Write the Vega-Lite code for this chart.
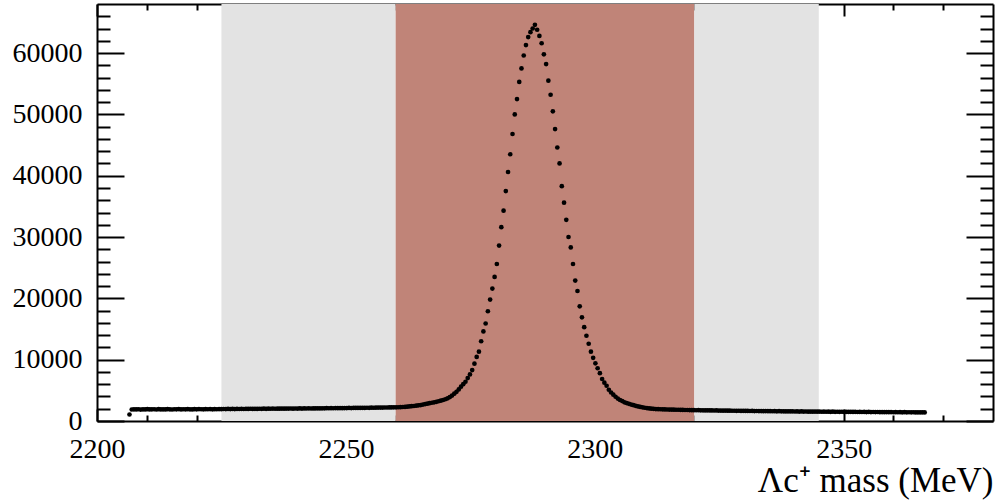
{
"$schema": "https://vega.github.io/schema/vega-lite/v6.json",
"width": 896, "height": 417,
"autosize": {"type": "none"},
"padding": {"left": 97, "top": 4, "right": 5, "bottom": 81},
"background": "white",
"config": {"view": {"stroke": null}, "axis": {"labelFont": "Liberation Serif", "titleFont": "Liberation Serif", "tickColor": "black", "domainColor": "black", "labelColor": "black", "titleColor": "black", "grid": false, "zindex": 1, "tickWidth": 2}},
"data": {"values": [
{"mass":2206.525,"count":1060},{"mass":2206.975,"count":1880},{"mass":2207.425,"count":1905},{"mass":2207.875,"count":1890},{"mass":2208.325,"count":1920},{"mass":2208.775,"count":1870},{"mass":2209.225,"count":1910},{"mass":2209.675,"count":1895},{"mass":2210.125,"count":1930},{"mass":2210.575,"count":1885},{"mass":2211.025,"count":1900},{"mass":2211.475,"count":1915},{"mass":2211.925,"count":1875},{"mass":2212.375,"count":1925},{"mass":2212.825,"count":1895},{"mass":2213.275,"count":1910},{"mass":2213.725,"count":1890},{"mass":2214.175,"count":1935},{"mass":2214.625,"count":1900},{"mass":2215.075,"count":1880},{"mass":2215.525,"count":1915},{"mass":2215.975,"count":1905},{"mass":2216.425,"count":1945},{"mass":2216.875,"count":1890},{"mass":2217.325,"count":1920},{"mass":2217.775,"count":1900},{"mass":2218.225,"count":1930},{"mass":2218.675,"count":1910},{"mass":2219.125,"count":1895},{"mass":2219.575,"count":1925},{"mass":2220.025,"count":1905},{"mass":2220.475,"count":1940},{"mass":2220.925,"count":1915},{"mass":2221.375,"count":1900},{"mass":2221.825,"count":1930},{"mass":2222.275,"count":1920},{"mass":2222.725,"count":1945},{"mass":2223.175,"count":1905},{"mass":2223.625,"count":1935},{"mass":2224.075,"count":1920},{"mass":2224.525,"count":1950},{"mass":2224.975,"count":1925},
{"mass":2225.425,"count":1955},{"mass":2225.875,"count":1940},{"mass":2226.325,"count":1965},{"mass":2226.775,"count":1950},{"mass":2227.225,"count":1975},{"mass":2227.675,"count":1945},{"mass":2228.125,"count":1970},{"mass":2228.575,"count":1960},{"mass":2229.025,"count":1985},{"mass":2229.475,"count":1955},{"mass":2229.925,"count":1980},{"mass":2230.375,"count":1970},{"mass":2230.825,"count":1995},{"mass":2231.275,"count":1965},{"mass":2231.725,"count":1990},{"mass":2232.175,"count":1975},{"mass":2232.625,"count":2000},{"mass":2233.075,"count":1985},{"mass":2233.525,"count":2010},{"mass":2233.975,"count":1990},{"mass":2234.425,"count":2005},{"mass":2234.875,"count":2000},{"mass":2235.325,"count":2020},{"mass":2235.775,"count":1995},{"mass":2236.225,"count":2015},{"mass":2236.675,"count":2010},{"mass":2237.125,"count":2030},{"mass":2237.575,"count":2005},{"mass":2238.025,"count":2025},{"mass":2238.475,"count":2020},{"mass":2238.925,"count":2040},{"mass":2239.375,"count":2015},{"mass":2239.825,"count":2035},{"mass":2240.275,"count":2030},{"mass":2240.725,"count":2050},{"mass":2241.175,"count":2025},{"mass":2241.625,"count":2045},{"mass":2242.075,"count":2040},{"mass":2242.525,"count":2060},{"mass":2242.975,"count":2035},{"mass":2243.425,"count":2055},{"mass":2243.875,"count":2050},{"mass":2244.325,"count":2070},{"mass":2244.775,"count":2045},{"mass":2245.225,"count":2065},
{"mass":2245.675,"count":2070},{"mass":2246.125,"count":2085},{"mass":2246.575,"count":2075},{"mass":2247.025,"count":2095},{"mass":2247.475,"count":2080},{"mass":2247.925,"count":2100},{"mass":2248.375,"count":2090},{"mass":2248.825,"count":2110},{"mass":2249.275,"count":2095},{"mass":2249.725,"count":2115},{"mass":2250.175,"count":2105},{"mass":2250.625,"count":2125},{"mass":2251.075,"count":2110},{"mass":2251.525,"count":2130},{"mass":2251.975,"count":2125},{"mass":2252.425,"count":2140},{"mass":2252.875,"count":2130},{"mass":2253.325,"count":2150},{"mass":2253.775,"count":2140},{"mass":2254.225,"count":2160},{"mass":2254.675,"count":2150},{"mass":2255.125,"count":2170},{"mass":2255.575,"count":2160},{"mass":2256.025,"count":2180},
{"mass":2256.475,"count":2185},{"mass":2256.925,"count":2195},{"mass":2257.375,"count":2190},{"mass":2257.825,"count":2205},{"mass":2258.275,"count":2200},{"mass":2258.725,"count":2215},{"mass":2259.175,"count":2210},{"mass":2259.625,"count":2225},{"mass":2260.075,"count":2230},{"mass":2260.525,"count":2240},
{"mass":2260.975,"count":2250},{"mass":2261.425,"count":2280},{"mass":2261.875,"count":2300},{"mass":2262.325,"count":2330},{"mass":2262.775,"count":2380},{"mass":2263.225,"count":2420},{"mass":2263.675,"count":2450},{"mass":2264.125,"count":2500},{"mass":2264.575,"count":2550},{"mass":2265.025,"count":2600},
{"mass":2265.475,"count":2680},{"mass":2265.925,"count":2760},{"mass":2266.375,"count":2830},{"mass":2266.825,"count":2900},{"mass":2267.275,"count":2980},{"mass":2267.725,"count":3050},{"mass":2268.175,"count":3130},{"mass":2268.625,"count":3220},{"mass":2269.075,"count":3320},{"mass":2269.525,"count":3420},
{"mass":2269.975,"count":3550},{"mass":2270.425,"count":3700},{"mass":2270.875,"count":3900},{"mass":2271.325,"count":4150},{"mass":2271.775,"count":4450},{"mass":2272.225,"count":4750},{"mass":2272.675,"count":5150},{"mass":2273.125,"count":5600},{"mass":2273.575,"count":6000},{"mass":2274.025,"count":6400},
{"mass":2274.475,"count":7000},{"mass":2274.925,"count":7600},{"mass":2275.375,"count":8300},{"mass":2275.825,"count":9350},{"mass":2276.275,"count":10450},{"mass":2276.725,"count":11300},{"mass":2277.175,"count":13000},{"mass":2277.625,"count":14600},{"mass":2278.075,"count":15900},{"mass":2278.525,"count":17900},
{"mass":2278.975,"count":19800},{"mass":2279.425,"count":21600},{"mass":2279.875,"count":23500},{"mass":2280.325,"count":25600},{"mass":2280.775,"count":28600},{"mass":2281.225,"count":31600},{"mass":2281.675,"count":34300},{"mass":2282.125,"count":37500},{"mass":2282.575,"count":40600},{"mass":2283.025,"count":43500},
{"mass":2283.475,"count":46800},{"mass":2283.925,"count":50000},{"mass":2284.375,"count":52500},{"mass":2284.825,"count":55300},{"mass":2285.275,"count":57500},{"mass":2285.725,"count":59600},{"mass":2286.175,"count":61300},{"mass":2286.625,"count":62600},{"mass":2287.075,"count":63400},{"mass":2287.525,"count":64000},
{"mass":2287.975,"count":64600},
{"mass":2288.425,"count":63800},{"mass":2288.875,"count":62800},{"mass":2289.325,"count":61600},{"mass":2289.775,"count":59800},{"mass":2290.225,"count":58200},{"mass":2290.675,"count":55500},{"mass":2291.125,"count":53200},{"mass":2291.575,"count":50500},{"mass":2292.025,"count":47600},{"mass":2292.475,"count":44600},
{"mass":2292.925,"count":42000},{"mass":2293.375,"count":38300},{"mass":2293.825,"count":35600},{"mass":2294.275,"count":32800},{"mass":2294.725,"count":30000},{"mass":2295.175,"count":28300},{"mass":2295.625,"count":25600},{"mass":2296.075,"count":22900},{"mass":2296.525,"count":21200},{"mass":2296.975,"count":18700},
{"mass":2297.425,"count":16900},{"mass":2297.875,"count":15300},{"mass":2298.325,"count":13900},{"mass":2298.775,"count":12600},{"mass":2299.225,"count":11300},{"mass":2299.675,"count":10300},{"mass":2300.125,"count":9400},{"mass":2300.575,"count":8600},{"mass":2301.025,"count":7800},{"mass":2301.475,"count":6850},
{"mass":2301.925,"count":6250},{"mass":2302.375,"count":5750},{"mass":2302.825,"count":5100},{"mass":2303.275,"count":4650},{"mass":2303.725,"count":4300},{"mass":2304.175,"count":3950},{"mass":2304.625,"count":3650},{"mass":2305.075,"count":3420},{"mass":2305.525,"count":3250},{"mass":2305.975,"count":3050},
{"mass":2306.425,"count":2920},{"mass":2306.875,"count":2800},{"mass":2307.325,"count":2680},{"mass":2307.775,"count":2580},{"mass":2308.225,"count":2480},{"mass":2308.675,"count":2380},{"mass":2309.125,"count":2300},{"mass":2309.575,"count":2230},{"mass":2310.025,"count":2160},{"mass":2310.475,"count":2100},
{"mass":2310.925,"count":2050},{"mass":2311.375,"count":2010},{"mass":2311.825,"count":1980},{"mass":2312.275,"count":1950},{"mass":2312.725,"count":1935},{"mass":2313.175,"count":1920},{"mass":2313.625,"count":1905},{"mass":2314.075,"count":1895},{"mass":2314.525,"count":1880},{"mass":2314.975,"count":1870},
{"mass":2315.425,"count":1855},{"mass":2315.875,"count":1850},{"mass":2316.325,"count":1835},{"mass":2316.775,"count":1830},{"mass":2317.225,"count":1815},{"mass":2317.675,"count":1810},{"mass":2318.125,"count":1795},{"mass":2318.575,"count":1790},{"mass":2319.025,"count":1780},{"mass":2319.475,"count":1770},
{"mass":2319.925,"count":1765},{"mass":2320.375,"count":1750},{"mass":2320.825,"count":1760},{"mass":2321.275,"count":1740},{"mass":2321.725,"count":1745},{"mass":2322.175,"count":1730},{"mass":2322.625,"count":1740},{"mass":2323.075,"count":1720},{"mass":2323.525,"count":1725},{"mass":2323.975,"count":1710},{"mass":2324.425,"count":1720},{"mass":2324.875,"count":1700},{"mass":2325.325,"count":1705},{"mass":2325.775,"count":1690},{"mass":2326.225,"count":1700},{"mass":2326.675,"count":1680},{"mass":2327.125,"count":1690},{"mass":2327.575,"count":1670},{"mass":2328.025,"count":1675},{"mass":2328.475,"count":1660},{"mass":2328.925,"count":1670},{"mass":2329.375,"count":1650},{"mass":2329.825,"count":1660},
{"mass":2330.275,"count":1645},{"mass":2330.725,"count":1650},{"mass":2331.175,"count":1635},{"mass":2331.625,"count":1645},{"mass":2332.075,"count":1625},{"mass":2332.525,"count":1635},{"mass":2332.975,"count":1615},{"mass":2333.425,"count":1625},{"mass":2333.875,"count":1605},{"mass":2334.325,"count":1620},{"mass":2334.775,"count":1600},{"mass":2335.225,"count":1610},{"mass":2335.675,"count":1590},{"mass":2336.125,"count":1600},{"mass":2336.575,"count":1580},{"mass":2337.025,"count":1595},{"mass":2337.475,"count":1575},{"mass":2337.925,"count":1585},{"mass":2338.375,"count":1565},{"mass":2338.825,"count":1580},{"mass":2339.275,"count":1560},{"mass":2339.725,"count":1570},
{"mass":2340.175,"count":1550},{"mass":2340.625,"count":1565},{"mass":2341.075,"count":1540},{"mass":2341.525,"count":1555},{"mass":2341.975,"count":1535},{"mass":2342.425,"count":1545},{"mass":2342.875,"count":1525},{"mass":2343.325,"count":1540},{"mass":2343.775,"count":1520},{"mass":2344.225,"count":1535},{"mass":2344.675,"count":1515},{"mass":2345.125,"count":1530},{"mass":2345.575,"count":1510},{"mass":2346.025,"count":1525},{"mass":2346.475,"count":1505},{"mass":2346.925,"count":1520},{"mass":2347.375,"count":1500},{"mass":2347.825,"count":1515},{"mass":2348.275,"count":1495},{"mass":2348.725,"count":1510},{"mass":2349.175,"count":1490},{"mass":2349.625,"count":1505},
{"mass":2350.075,"count":1485},{"mass":2350.525,"count":1500},{"mass":2350.975,"count":1480},{"mass":2351.425,"count":1495},{"mass":2351.875,"count":1475},{"mass":2352.325,"count":1490},{"mass":2352.775,"count":1470},{"mass":2353.225,"count":1485},{"mass":2353.675,"count":1465},{"mass":2354.125,"count":1480},{"mass":2354.575,"count":1460},{"mass":2355.025,"count":1475},{"mass":2355.475,"count":1455},{"mass":2355.925,"count":1470},{"mass":2356.375,"count":1450},{"mass":2356.825,"count":1465},{"mass":2357.275,"count":1445},{"mass":2357.725,"count":1460},{"mass":2358.175,"count":1440},{"mass":2358.625,"count":1455},{"mass":2359.075,"count":1435},{"mass":2359.525,"count":1450},{"mass":2359.975,"count":1430},
{"mass":2360.425,"count":1445},{"mass":2360.875,"count":1425},{"mass":2361.325,"count":1440},{"mass":2361.775,"count":1420},{"mass":2362.225,"count":1435},{"mass":2362.675,"count":1415},{"mass":2363.125,"count":1430},{"mass":2363.575,"count":1410},{"mass":2364.025,"count":1425},{"mass":2364.475,"count":1405},{"mass":2364.925,"count":1420},{"mass":2365.375,"count":1400},{"mass":2365.825,"count":1410},{"mass":2366.275,"count":1395}
]},
"layer": [
{
"data": {"values": [{"start": 2225, "end": 2260, "region": "sideband"}, {"start": 2260, "end": 2320, "region": "signal"}, {"start": 2320, "end": 2345, "region": "sideband"}]},
"mark": {"type": "rect"},
"encoding": {
"x": {"field": "start", "type": "quantitative", "scale": {"domain": [2200, 2380], "nice": false, "zero": false},
"axis": {"orient": "bottom", "values": [2200, 2250, 2300, 2350], "ticks": false, "domain": true, "domainWidth": 2, "labelFontSize": 28, "labelPadding": 14, "labelFlush": false, "format": "d", "title": "Λc⁺ mass (MeV)", "titleFontSize": 35, "titleFontWeight": "normal", "titleAnchor": "end", "titlePadding": 0}},
"x2": {"field": "end"},
"color": {"field": "region", "type": "nominal", "scale": {"domain": ["sideband", "signal"], "range": ["#e3e3e3", "#c08478"]}, "legend": null}
}
},
{
"mark": {"type": "point", "filled": true, "color": "black", "size": 22, "opacity": 1, "strokeWidth": 0},
"encoding": {
"x": {"field": "mass", "type": "quantitative", "axis": {"orient": "bottom", "values": [2200, 2250, 2300, 2350], "labels": false, "domain": false, "tickSize": -12, "title": null}},
"y": {"field": "count", "type": "quantitative", "scale": {"domain": [0, 68000], "nice": false, "zero": true},
"axis": {"orient": "left", "values": [0, 10000, 20000, 30000, 40000, 50000, 60000], "ticks": false, "domain": true, "domainWidth": 2, "labelFontSize": 28, "labelPadding": 15, "labelFlush": false, "format": "d", "title": null}}
}
},
{
"mark": {"type": "point", "opacity": 0},
"encoding": {
"x": {"field": "mass", "type": "quantitative", "axis": {"orient": "bottom", "values": [2210, 2220, 2230, 2240, 2260, 2270, 2280, 2290, 2310, 2320, 2330, 2340, 2360, 2370], "labels": false, "domain": false, "tickSize": -6, "title": null}},
"y": {"field": "count", "type": "quantitative", "axis": {"orient": "left", "values": [0, 10000, 20000, 30000, 40000, 50000, 60000], "labels": false, "domain": false, "tickSize": -27, "title": null}}
}
},
{
"mark": {"type": "point", "opacity": 0},
"encoding": {
"x": {"field": "mass", "type": "quantitative", "axis": {"orient": "top", "values": [2200, 2250, 2300, 2350], "labels": false, "domain": true, "domainWidth": 2, "tickSize": -12, "title": null}},
"y": {"field": "count", "type": "quantitative", "axis": {"orient": "left", "values": [2000, 4000, 6000, 8000, 12000, 14000, 16000, 18000, 22000, 24000, 26000, 28000, 32000, 34000, 36000, 38000, 42000, 44000, 46000, 48000, 52000, 54000, 56000, 58000, 62000, 64000, 66000], "labels": false, "domain": false, "tickSize": -13, "title": null}}
}
},
{
"mark": {"type": "point", "opacity": 0},
"encoding": {
"x": {"field": "mass", "type": "quantitative", "axis": {"orient": "top", "values": [2210, 2220, 2230, 2240, 2260, 2270, 2280, 2290, 2310, 2320, 2330, 2340, 2360, 2370], "labels": false, "domain": false, "tickSize": -6, "title": null}},
"y": {"field": "count", "type": "quantitative", "axis": {"orient": "right", "values": [0, 10000, 20000, 30000, 40000, 50000, 60000], "labels": false, "domain": true, "domainWidth": 2, "tickSize": -27, "title": null}}
}
},
{
"mark": {"type": "point", "opacity": 0},
"encoding": {
"x": {"field": "mass", "type": "quantitative", "axis": null},
"y": {"field": "count", "type": "quantitative", "axis": {"orient": "right", "values": [2000, 4000, 6000, 8000, 12000, 14000, 16000, 18000, 22000, 24000, 26000, 28000, 32000, 34000, 36000, 38000, 42000, 44000, 46000, 48000, 52000, 54000, 56000, 58000, 62000, 64000, 66000], "labels": false, "domain": false, "tickSize": -13, "title": null}}
}
}
],
"resolve": {"axis": {"x": "independent", "y": "independent"}}
}
